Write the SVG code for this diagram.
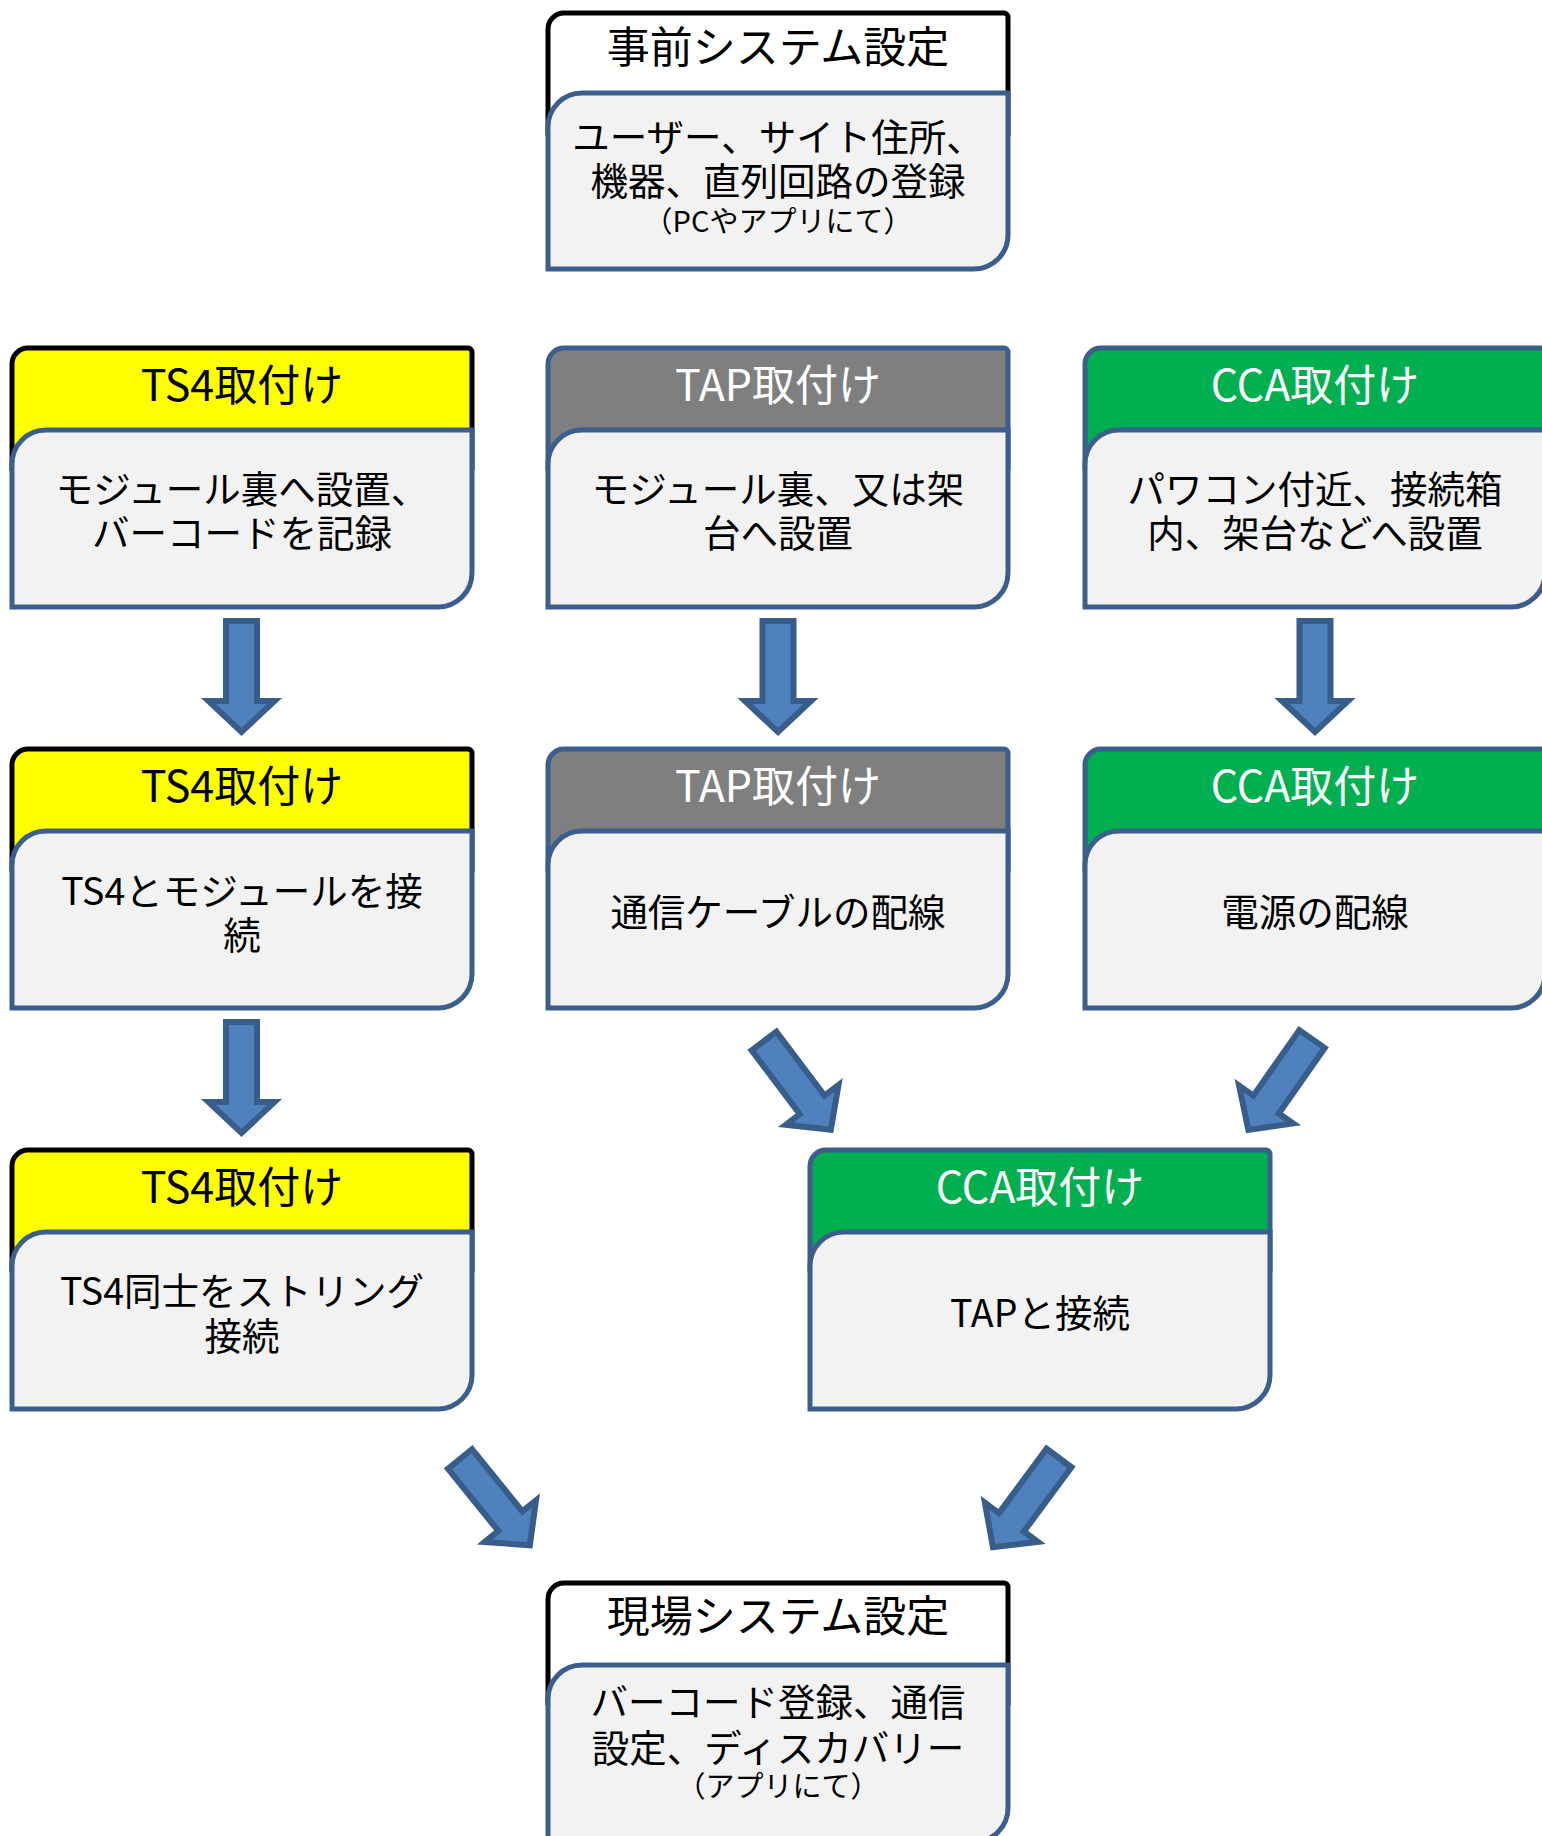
<svg xmlns="http://www.w3.org/2000/svg" width="1542" height="1836" viewBox="0 0 1542 1836">
<style>
text{font-family:"Noto Sans CJK JP","Noto Sans",sans-serif;text-anchor:middle;fill:#000}
.t{font-size:43px}
.b{font-size:37.5px}
.s{font-size:29px}
.w{fill:#fff}
.hk{stroke:#000;stroke-width:5}
.hb{stroke:#3B5E8C;stroke-width:5}
.white{fill:#fff}
.yel{fill:#FFFF00}
.gray{fill:#7F7F7F}
.green{fill:#00B050}
.inner{fill:#F2F2F2;stroke:#3B5E8C;stroke-width:5}
.arrow{fill:#4F81BD;stroke:#385D8A;stroke-width:6;stroke-linejoin:miter}
</style>
<defs>
<path id="arr" d="M-15.5,0 H15.5 V80 H33 L0,111 L-33,80 H-15.5 Z"/>
</defs>
<rect width="1542" height="1836" fill="#fff"/>

<g id="connectors">
<use href="#arr" class="arrow" transform="translate(241.5,621)"/>
<use href="#arr" class="arrow" transform="translate(778,621)"/>
<use href="#arr" class="arrow" transform="translate(1315,621)"/>
<use href="#arr" class="arrow" transform="translate(241.5,1022)"/>
<use href="#arr" class="arrow" transform="translate(764,1041) rotate(-37)"/>
<use href="#arr" class="arrow" transform="translate(1312,1039) rotate(35)"/>
<use href="#arr" class="arrow" transform="translate(460,1459) rotate(-39)"/>
<use href="#arr" class="arrow" transform="translate(1059,1458) rotate(36.5)"/>
</g>

<g id="pre">
<path class="white hk" d="M548,133 V29 A16,16 0 0 1 564,13 H1004 A4,4 0 0 1 1008,17 V133 Z"/>
<path class="inner" d="M548,127 A34,34 0 0 1 582,93 H1008 V235 A34,34 0 0 1 974,269 H548 Z"/>
<text class="t" x="778" y="63">事前システム設定</text>
<text class="b" x="778" y="151">ユーザー、サイト住所、<tspan x="778" dy="44">機器、直列回路の登録</tspan><tspan class="s" x="778" dy="37">（PCやアプリにて）</tspan></text>
</g>

<g id="ts4-1">
<path class="yel hk" d="M12,468 V364 A16,16 0 0 1 28,348 H468 A4,4 0 0 1 472,352 V468 Z"/>
<path class="inner" d="M12,464 A34,34 0 0 1 46,430 H472 V573 A34,34 0 0 1 438,607 H12 Z"/>
<text class="t" x="242" y="401">TS4取付け</text>
<text class="b" x="242" y="503">モジュール裏へ設置、<tspan x="242" dy="44">バーコードを記録</tspan></text>
</g>

<g id="tap-1">
<path class="gray hb" d="M548,468 V364 A16,16 0 0 1 564,348 H1004 A4,4 0 0 1 1008,352 V468 Z"/>
<path class="inner" d="M548,464 A34,34 0 0 1 582,430 H1008 V573 A34,34 0 0 1 974,607 H548 Z"/>
<text class="t w" x="778" y="401">TAP取付け</text>
<text class="b" x="778" y="503">モジュール裏、又は架<tspan x="778" dy="44">台へ設置</tspan></text>
</g>

<g id="cca-1">
<path class="green hb" d="M1085,468 V364 A16,16 0 0 1 1101,348 H1541 A4,4 0 0 1 1545,352 V468 Z"/>
<path class="inner" d="M1085,464 A34,34 0 0 1 1119,430 H1545 V573 A34,34 0 0 1 1511,607 H1085 Z"/>
<text class="t w" x="1315" y="401">CCA取付け</text>
<text class="b" x="1315" y="503">パワコン付近、接続箱<tspan x="1315" dy="44">内、架台などへ設置</tspan></text>
</g>

<g id="ts4-2">
<path class="yel hk" d="M12,869 V765 A16,16 0 0 1 28,749 H468 A4,4 0 0 1 472,753 V869 Z"/>
<path class="inner" d="M12,865 A34,34 0 0 1 46,831 H472 V974 A34,34 0 0 1 438,1008 H12 Z"/>
<text class="t" x="242" y="802">TS4取付け</text>
<text class="b" x="242" y="905">TS4とモジュールを接<tspan x="242" dy="44">続</tspan></text>
</g>

<g id="tap-2">
<path class="gray hb" d="M548,869 V765 A16,16 0 0 1 564,749 H1004 A4,4 0 0 1 1008,753 V869 Z"/>
<path class="inner" d="M548,865 A34,34 0 0 1 582,831 H1008 V974 A34,34 0 0 1 974,1008 H548 Z"/>
<text class="t w" x="778" y="802">TAP取付け</text>
<text class="b" x="778" y="926">通信ケーブルの配線</text>
</g>

<g id="cca-2">
<path class="green hb" d="M1085,869 V765 A16,16 0 0 1 1101,749 H1541 A4,4 0 0 1 1545,753 V869 Z"/>
<path class="inner" d="M1085,865 A34,34 0 0 1 1119,831 H1545 V974 A34,34 0 0 1 1511,1008 H1085 Z"/>
<text class="t w" x="1315" y="802">CCA取付け</text>
<text class="b" x="1315" y="926">電源の配線</text>
</g>

<g id="ts4-3">
<path class="yel hk" d="M12,1270 V1166 A16,16 0 0 1 28,1150 H468 A4,4 0 0 1 472,1154 V1270 Z"/>
<path class="inner" d="M12,1266 A34,34 0 0 1 46,1232 H472 V1375 A34,34 0 0 1 438,1409 H12 Z"/>
<text class="t" x="242" y="1203">TS4取付け</text>
<text class="b" x="242" y="1305">TS4同士をストリング<tspan x="242" dy="45">接続</tspan></text>
</g>

<g id="cca-3">
<path class="green hb" d="M810,1270 V1166 A16,16 0 0 1 826,1150 H1266 A4,4 0 0 1 1270,1154 V1270 Z"/>
<path class="inner" d="M810,1266 A34,34 0 0 1 844,1232 H1270 V1375 A34,34 0 0 1 1236,1409 H810 Z"/>
<text class="t w" x="1040" y="1203">CCA取付け</text>
<text class="b" x="1040" y="1327">TAPと接続</text>
</g>

<g id="post">
<path class="white hk" d="M548,1703 V1599 A16,16 0 0 1 564,1583 H1004 A4,4 0 0 1 1008,1587 V1703 Z"/>
<path class="inner" d="M548,1699 A34,34 0 0 1 582,1665 H1008 V1808 A34,34 0 0 1 974,1842 H548 Z"/>
<text class="t" x="778" y="1632">現場システム設定</text>
<text class="b" x="778" y="1716">バーコード登録、通信<tspan x="778" dy="46">設定、ディスカバリー</tspan><tspan class="s" x="778" dy="35">（アプリにて）</tspan></text>
</g>
</svg>
